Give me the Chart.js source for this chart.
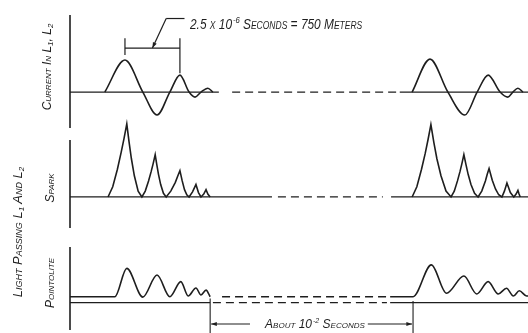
<!DOCTYPE html>
<html>
<head>
<meta charset="utf-8">
<script src="https://cdn.jsdelivr.net/npm/chart.js@4"></script>
<style>
    body { margin: 0; background: #fff; }
    #wrap { position: relative; width: 528px; height: 333px; overflow: hidden; background: #fff; }
    #wrap canvas { position: absolute; left: 0; }
    .lbl {
        position: absolute; white-space: nowrap; color: #222;
        font: italic small-caps 12px "Liberation Sans", sans-serif;
        transform: translate(-50%, -50%) rotate(-90deg);
    }
    .lbl sub { font-size: 8px; vertical-align: -2px; }
</style>
</head>
<body>
<div id="wrap">
    <canvas id="current" width="528" height="135" style="top:0"></canvas>
    <canvas id="spark" width="528" height="125" style="top:110px"></canvas>
    <canvas id="pointolite" width="528" height="98" style="top:235px"></canvas>
    <div class="lbl" style="left:47px;top:67px">Current In L<sub>1</sub>, L<sub>2</sub></div>
    <div class="lbl" style="left:50px;top:188px">Spark</div>
    <div class="lbl" style="left:50px;top:283px">Pointolite</div>
    <div class="lbl" style="left:18px;top:232px;font-size:13px">Light Passing L<sub>1</sub> And L<sub>2</sub></div>
</div>
<script>
// time runs 0..100 across the plot (the gap between sparks is drawn shortened)
const xRange = [0, 100];

// current in L1, L2 (first peak = 1)
const currentFirst = [[7.6, 0], [12.0, 1.0], [15.9, 0], [19.0, -0.72], [21.8, 0], [24.0, 0.53], [26.0, 0], [27.3, -0.16], [28.6, 0], [30.1, 0.12], [31.2, 0]];
const currentSecond = [[74.7, 0], [78.6, 1.03], [82.5, 0], [86.2, -0.72], [88.9, 0], [91.3, 0.53], [93.9, 0], [95.6, -0.16], [96.7, 0], [97.8, 0.12], [98.9, 0]];
const currentSolid = [[0, 32.5], [72.0, 100]];
const currentDashed = [[35.4, 72.0]];
const currentRange = [-1.125, 2.41];

// light from the spark (first peak = 1)
const sparkFirst = [[8.3, 0], [9.33, 0.14], [10.35, 0.38], [11.17, 0.61], [11.79, 0.8], [12.4, 1.0],
    [12.9, 0.75], [13.39, 0.53], [14.05, 0.29], [14.88, 0.08], [15.7, 0],
    [16.43, 0.08], [17.15, 0.22], [17.73, 0.35], [18.17, 0.46], [18.6, 0.58], [18.96, 0.44], [19.32, 0.31], [19.8, 0.17], [20.4, 0.05], [21.0, 0],
    [22.0, 0.08], [23.0, 0.2], [23.55, 0.29], [24.0, 0.36], [24.5, 0.22], [25.0, 0.1], [25.5, 0.03], [26.0, 0],
    [26.75, 0.07], [27.5, 0.17], [28.05, 0.06], [28.6, 0],
    [29.2, 0.04], [29.7, 0.1], [30.1, 0.04], [30.6, 0]];
const sparkSecond = [[74.7, 0], [75.73, 0.14], [76.75, 0.38], [77.57, 0.6], [78.19, 0.79], [78.8, 0.99],
    [79.46, 0.74], [80.12, 0.52], [81.0, 0.29], [82.1, 0.08], [83.2, 0],
    [83.9, 0.08], [84.6, 0.22], [85.16, 0.35], [85.58, 0.46], [86.0, 0.58], [86.47, 0.44], [86.93, 0.31], [87.55, 0.17], [88.33, 0.05], [89.1, 0],
    [89.9, 0.08], [90.7, 0.22], [91.1, 0.31], [91.5, 0.39], [92.2, 0.23], [92.9, 0.11], [93.6, 0.03], [94.3, 0],
    [94.85, 0.08], [95.4, 0.19], [96.15, 0.06], [96.9, 0],
    [97.4, 0.04], [97.8, 0.09], [98.05, 0.04], [98.3, 0]];
const sparkSolid = [[0, 44.1], [70.1, 100]];
const sparkDashed = [[45.4, 68.3]];
const sparkRange = [-0.425, 0.78];

// light from the pointolite (steady level plus ripple)
const pointoliteFirst = [[0, 0.17], [9.8, 0.17], [12.4, 0.98], [15.9, 0.16], [19.0, 0.79], [21.8, 0.17], [24.2, 0.6], [25.8, 0.19], [27.5, 0.42], [28.6, 0.22], [29.7, 0.36], [30.6, 0.17]];
const pointoliteSecond = [[69.9, 0.17], [74.9, 0.17], [78.9, 1.08], [82.2, 0.27], [86.0, 0.76], [88.8, 0.25], [91.3, 0.6], [93.5, 0.25], [95.3, 0.41], [96.8, 0.19], [98.1, 0.34], [99.7, 0.19], [100, 0.19]];
const steadyDashed = [[33.2, 69.2]];
const zeroSolid = [[0, 30.6], [69.9, 100]];
const zeroDashed = [[31.2, 69.2]];
const pointoliteRange = [-0.78, 1.59];

const periodLabel = ['2.5 x 10', '-6', ' Seconds = 750 Meters'];
const intervalLabel = ['About 10', '-2', ' Seconds'];

const ink = '#1e1e1e';
const dash = [8, 5];

function pts(arr) { return arr.map(([x, y]) => ({ x, y })); }
function spans(list, level) {
    const out = [];
    list.forEach(([a, b], i) => {
        if (i) out.push({ x: a - 0.01, y: null });
        out.push({ x: a, y: level }, { x: b, y: level });
    });
    return out;
}
function curve(data, smooth) {
    return { data: pts(data), borderWidth: 1.6, cubicInterpolationMode: smooth ? 'monotone' : 'default', tension: 0 };
}
function flat(list, level, dashed) {
    return { data: spans(list, level), borderWidth: dashed ? 1.3 : 1.2, borderDash: dashed ? dash : [] };
}

function line(ctx, x1, y1, x2, y2) {
    ctx.beginPath(); ctx.moveTo(x1, y1); ctx.lineTo(x2, y2); ctx.stroke();
}
function arrow(ctx, x1, y1, x2, y2) {
    line(ctx, x1, y1, x2, y2);
    const a = Math.atan2(y2 - y1, x2 - x1), L = 6, w = 0.35;
    ctx.beginPath();
    ctx.moveTo(x2, y2);
    ctx.lineTo(x2 - L * Math.cos(a - w), y2 - L * Math.sin(a - w));
    ctx.lineTo(x2 - L * Math.cos(a + w), y2 - L * Math.sin(a + w));
    ctx.closePath(); ctx.fill();
}
// base text, superscript, rest; squeezed sideways like the hand lettering; returns end x
function label(ctx, parts, x, y, size, squeeze) {
    const main = `italic small-caps ${size}px "Liberation Sans", sans-serif`;
    const sup = `italic ${Math.round(size * 0.62)}px "Liberation Sans", sans-serif`;
    ctx.save();
    ctx.translate(x, y); ctx.scale(squeeze, 1);
    ctx.textBaseline = 'alphabetic'; ctx.textAlign = 'left';
    let p = 0;
    ctx.font = main; ctx.fillText(parts[0], p, 0); p += ctx.measureText(parts[0]).width + 1;
    ctx.font = sup; ctx.fillText(parts[1], p, -size * 0.42); p += ctx.measureText(parts[1]).width;
    ctx.font = main; ctx.fillText(parts[2], p, 0); p += ctx.measureText(parts[2]).width;
    ctx.restore();
    return x + p * squeeze;
}

const axisLine = {
    id: 'axisLine',
    afterDatasetsDraw(chart) {
        const { ctx, chartArea: a } = chart;
        ctx.save(); ctx.strokeStyle = ink; ctx.lineWidth = 1.6;
        line(ctx, a.left, a.top, a.left, a.bottom);
        ctx.restore();
    }
};

const periodMarker = {
    id: 'periodMarker',
    afterDatasetsDraw(chart) {
        const { ctx, scales: { x, y } } = chart;
        const xa = x.getPixelForValue(currentFirst[1][0]);
        const xb = x.getPixelForValue(currentFirst[5][0]);
        const top = y.getPixelForValue(1.68);
        const bar = y.getPixelForValue(1.375);
        ctx.save();
        ctx.strokeStyle = ink; ctx.fillStyle = ink; ctx.lineWidth = 1.2;
        line(ctx, xa, top, xa, y.getPixelForValue(currentFirst[1][1] + 0.16));
        line(ctx, xb, top, xb, y.getPixelForValue(currentFirst[5][1] + 0.06));
        line(ctx, xa, bar, xb, bar);
        const lead = y.getPixelForValue(2.3);
        const bend = x.getPixelForValue(21.0);
        arrow(ctx, bend, lead, (xa + xb) / 2, bar);
        line(ctx, bend, lead, x.getPixelForValue(25.0), lead);
        label(ctx, periodLabel, x.getPixelForValue(26.2), y.getPixelForValue(1.97), 14, 0.85);
        ctx.restore();
    }
};

const intervalMarker = {
    id: 'intervalMarker',
    afterDatasetsDraw(chart) {
        const { ctx, scales: { x, y } } = chart;
        const x1 = x.getPixelForValue(pointoliteFirst[pointoliteFirst.length - 1][0]);
        const x2 = x.getPixelForValue(pointoliteSecond[1][0]);
        const row = y.getPixelForValue(-0.61);
        ctx.save();
        ctx.strokeStyle = ink; ctx.fillStyle = ink; ctx.lineWidth = 1.1;
        line(ctx, x1, y.getPixelForValue(0.12), x1, chart.height);
        line(ctx, x2, y.getPixelForValue(0.05), x2, chart.height);
        arrow(ctx, x.getPixelForValue(39.3), row, x1 + 1, row);
        const end = label(ctx, intervalLabel, x.getPixelForValue(42.6), row + 4, 12, 1);
        arrow(ctx, end + 3, row, x2 - 1, row);
        ctx.restore();
    }
};

function panel(id, datasets, range, padding, plugins) {
    datasets.forEach(d => Object.assign(d, { borderColor: ink, pointRadius: 0, fill: false, clip: false }));
    return new Chart(document.getElementById(id), {
        type: 'line',
        data: { datasets },
        options: {
            responsive: false, animation: false, events: [],
            layout: { padding },
            scales: {
                x: { type: 'linear', min: xRange[0], max: xRange[1], display: false },
                y: { min: range[0], max: range[1], display: false }
            },
            plugins: { legend: { display: false }, tooltip: { enabled: false } }
        },
        plugins: [axisLine, ...plugins]
    });
}

panel('current', [
    flat(currentSolid, 0), flat(currentDashed, 0, true),
    curve(currentFirst, true), curve(currentSecond, true)
], currentRange, { left: 70, right: 0, top: 15, bottom: 7 }, [periodMarker]);

panel('spark', [
    flat(sparkSolid, 0), flat(sparkDashed, 0, true),
    curve(sparkFirst, false), curve(sparkSecond, false)
], sparkRange, { left: 70, right: 0, top: 30, bottom: 7 }, []);

panel('pointolite', [
    flat(zeroSolid, 0), flat(zeroDashed, 0, true), flat(steadyDashed, 0.17, true),
    curve(pointoliteFirst, true), curve(pointoliteSecond, true)
], pointoliteRange, { left: 70, right: 0, top: 12, bottom: 3 }, [intervalMarker]);
</script>
</body>
</html>
